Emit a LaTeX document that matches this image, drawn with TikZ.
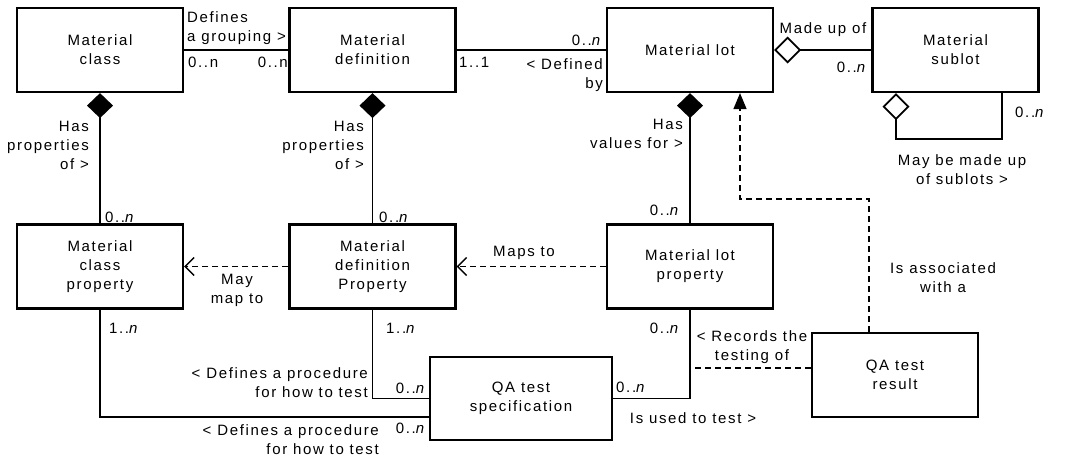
\documentclass[tikz,border=0pt]{standalone}
\usepackage{fontspec}
\setmainfont{Liberation Sans}[LetterSpace=11]
\usetikzlibrary{arrows.meta}
\begin{document}
\begin{tikzpicture}[x=1pt,y=-1pt,font=\fontsize{15}{19}\selectfont,
    box/.style={draw,line width=2.2pt,minimum width=166pt,minimum height=84pt,align=center,inner sep=2pt},
    assoc/.style={line width=1.8pt},
    dep/.style={line width=1.4pt,dash pattern=on 6pt off 4pt},
    comp/.style={{Diamond[length=25pt,width=26pt]}-},
    aggr/.style={{Diamond[open,length=27pt,width=27pt]}-},
    lr/.style={align=right,anchor=east,inner sep=1pt},
    ll/.style={align=left,anchor=west,inner sep=1pt},
    lc/.style={align=center,inner sep=1pt}]
  \useasboundingbox (0,0) rectangle (1067,464);
  \foreach \n/\x/\y/\t in {mc/100/50/{Material\\class},md/372.5/50/{Material\\definition},ml/690/50/{Material lot},ms/955.5/50/{Material\\sublot},mcp/100/266.5/{Material\\class\\property},mdp/372.5/266.5/{Material\\definition\\Property},mlp/690/266.5/{Material lot\\property},qr/895/375/{QA test\\result}}
    \node[box] (\n) at (\x,\y) {\t};
  \node[box,minimum width=182pt,minimum height=83pt] (qs) at (521,398.5) {QA test\\specification};
  \draw[assoc] (mc) -- (md);
  \draw[assoc] (md) -- (ml);
  \draw[assoc,aggr] (ml.east) -- (ms.west);
  \draw[assoc,aggr] ([xshift=-59.5pt]ms.south) -- ++(0,46) -| ([xshift=46.5pt]ms.south);
  \foreach \a/\b in {mc/mcp,md/mdp,ml/mlp} \draw[assoc,comp] (\a.south) -- (\b.north);
  \draw[dep,-{Straight Barb[length=9pt,width=18pt]}] (mdp) -- (mcp);
  \draw[dep,-{Straight Barb[length=9pt,width=18pt]}] (mlp) -- (mdp);
  \draw[dep,-{Triangle[length=16pt,width=13pt]}] ([xshift=-26pt]qr.north) -- ++(0,-133) -| ([xshift=50pt]ml.south);
  \draw[assoc] (mcp.south) |- ([yshift=-18.5pt]qs.west);
  \draw[assoc] (mdp.south) |- (qs.west);
  \draw[assoc] (mlp.south) |- (qs.east);
  \draw[dep] ([yshift=7pt]qr.west) -- ([yshift=7pt]qr.west -| mlp.south);
  \node[ll] (ldef) at (186,28) {Defines\\a grouping >};
  \node[ll] (m1) at (187,62) {0..n};
  \node[lr] (m2) at (289,62) {0..n};
  \node[ll] (m3) at (458,62) {1..1};
  \node[lr] (ldby) at (604,75) {< Defined\\by};
  \node[lr] (m4) at (603,40) {0..\textit{n}};
  \node[lc] (lmade) at (823,30) {Made up of};
  \node[lr] (m5) at (868,67) {0..\textit{n}};
  \node[ll] (m6) at (1014,112) {0..\textit{n}};
  \node[lc] (lsub) at (962,170) {May be made up\\of sublots >};
  \node[lr] (lhas1) at (90,145) {Has\\properties\\of >};
  \node[lr] (lhas2) at (365,145) {Has\\properties\\of >};
  \node[lr] (lhas3) at (684,134) {Has\\values for >};
  \node[ll] (m7) at (104,217) {0..\textit{n}};
  \node[ll] (m8) at (378,217) {0..\textit{n}};
  \node[lr] (m9) at (681,210) {0..\textit{n}};
  \node[lc] (lassoc) at (943,278) {Is associated\\with a};
  \node[lc] (lmay) at (237,290) {May\\map to};
  \node[lc] (lmaps) at (524,253) {Maps to};
  \node[ll] (m10) at (108,328) {1..\textit{n}};
  \node[ll] (m11) at (385,328) {1..\textit{n}};
  \node[lr] (m12) at (681,328) {0..\textit{n}};
  \node[lr] (lproc1) at (369,383) {< Defines a procedure\\for how to test};
  \node[lr] (m13) at (427,388) {0..\textit{n}};
  \node[lr] (lproc2) at (380,440) {< Defines a procedure\\for how to test};
  \node[lr] (m14) at (427,428) {0..\textit{n}};
  \node[ll] (m15) at (615,387) {0..\textit{n}};
  \node[lc] (lused) at (693,418) {Is used to test >};
  \node[lc] (lrec) at (752,347) {< Records the\\testing of};
\end{tikzpicture}
\end{document}
